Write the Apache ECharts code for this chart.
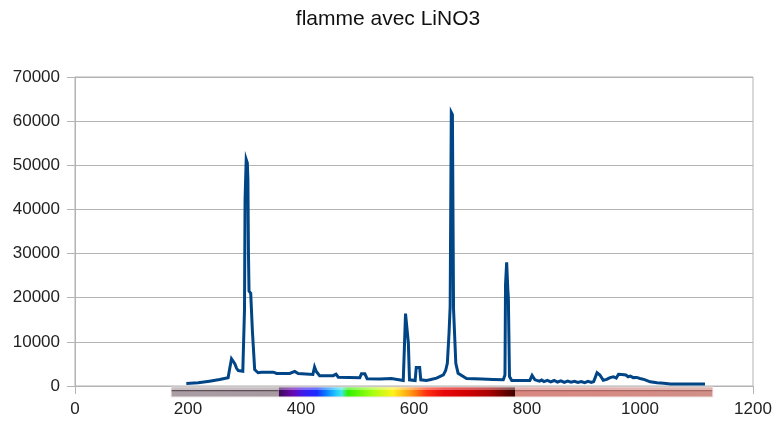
<!DOCTYPE html>
<html>
<head>
<meta charset="utf-8">
<script src="https://cdn.jsdelivr.net/npm/echarts@6/dist/echarts.min.js"></script>
<style>
  html, body { margin: 0; padding: 0; background: #ffffff; }
  #chart { width: 776px; height: 421px; }
</style>
</head>
<body>
<div id="chart"></div>
<script>
// Emission spectrum of a flame with lithium nitrate (wavelength in nm, intensity in counts)
const titleText = 'flamme avec LiNO3';

const wavelengths = [
  197, 218, 238, 256, 271, 274, 277, 280, 283, 286, 289, 297,
  299, 300, 301, 303, 305, 306, 307, 308, 311, 314, 318, 324,
  330, 351, 357, 380, 389, 395, 421, 424, 427, 433, 457, 462,
  466, 504, 507, 513, 517, 540, 560, 562, 581, 583, 585, 588,
  590, 592, 602, 604, 610, 612, 622, 628, 640, 652, 656, 659,
  662, 664, 666, 668, 670, 674, 678, 693, 720, 740, 758, 761,
  762, 764, 766, 767, 769, 773, 790, 805, 809, 814, 822, 826,
  830, 836, 842, 848, 854, 860, 866, 872, 878, 884, 890, 896,
  902, 908, 914, 918, 921, 924, 929, 935, 941, 947, 953, 958,
  962, 965, 968, 971, 975, 979, 983, 988, 994, 1000, 1008, 1018,
  1030, 1042, 1054, 1115
];

const counts = [
  570, 720, 1090, 1470, 1850, 4100, 6150, 5600, 5000, 4000, 3500, 3360,
  3600, 17300, 42200, 51300, 50500, 47000, 30000, 21500, 21000, 12400, 3700, 3000,
  3130, 3130, 2830, 2830, 3300, 2830, 2600, 4300, 3300, 2350, 2350, 2700,
  2000, 1850, 2750, 2750, 1650, 1600, 1700, 1250, 1250, 8700, 16400, 16400,
  9800, 1400, 1250, 4200, 4200, 1400, 1250, 1400, 1780, 2530, 3500, 5150,
  11950, 18000, 62000, 61500, 17400, 5150, 2900, 1700, 1600, 1500, 1400, 2500,
  23000, 28000, 22000, 20000, 2150, 1250, 1250, 1250, 2400, 1400, 1100, 1350,
  1000, 1300, 950, 1250, 900, 1150, 800, 1100, 850, 1050, 800, 1000,
  750, 1050, 800, 1000, 900, 3000, 2500, 1300, 1500, 1900, 2100, 1800,
  2650, 2200, 2600, 2300, 2500, 2100, 2250, 1900, 1950, 1700, 1450, 950,
  720, 600, 450, 450
];

const xTicks = [0, 200, 400, 600, 800, 1000, 1200];
const yTicks = [0, 10000, 20000, 30000, 40000, 50000, 60000, 70000];

// Visible-spectrum strip drawn under the wavelength axis
const bandRange = [171, 1128];
const bandColours = [
  [171, '#aa9ea4'], [360, '#a79aa1'], [362, '#3f0a5a'], [385, '#6a06b0'],
  [405, '#3a1cf0'], [428, '#1b2cff'], [445, '#0a80ff'], [462, '#22c8ff'],
  [472, '#40e8e0'], [483, '#30f000'], [527, '#a6ff10'], [563, '#fff21a'],
  [593, '#ff9a10'], [622, '#ff3010'], [652, '#e80808'], [693, '#d20000'],
  [734, '#a80000'], [773, '#4c0000'], [778, '#3c0000'], [779, '#d98781'],
  [950, '#d68a84'], [1128, '#d09088']
];

const seriesData = wavelengths.map((w, i) => [w, counts[i]]);

const span = bandRange[1] - bandRange[0];
const bandGradientStops = bandColours.map(([nm, c]) => ({
  offset: Math.min(1, Math.max(0, (nm - bandRange[0]) / span)),
  color: c
}));

const chart = echarts.init(document.getElementById('chart'), null, { renderer: 'canvas' });

const labelFont = {
  fontFamily: '"Liberation Sans", Arial, sans-serif',
  fontSize: 17,
  color: '#222222',
  formatter: function (v) { return String(v); }
};

chart.setOption({
  animation: false,
  backgroundColor: '#ffffff',
  title: {
    text: titleText,
    left: 'center',
    top: 4,
    textStyle: {
      fontFamily: '"Liberation Sans", Arial, sans-serif',
      fontSize: 21,
      fontWeight: 'normal',
      color: '#111111'
    }
  },
  grid: {
    left: 75,
    right: 23,
    top: 77,
    bottom: 35,
    show: true,
    borderColor: '#b3b3b3',
    borderWidth: 1,
    backgroundColor: 'transparent'
  },
  xAxis: {
    type: 'value',
    min: xTicks[0],
    max: xTicks[xTicks.length - 1],
    interval: xTicks[1] - xTicks[0],
    axisLine: { show: true, lineStyle: { color: '#b3b3b3', width: 1 } },
    axisTick: { show: true, inside: false, length: 8, lineStyle: { color: '#b3b3b3' } },
    splitLine: { show: false },
    axisLabel: Object.assign({ margin: 15 }, labelFont)
  },
  yAxis: {
    type: 'value',
    min: yTicks[0],
    max: yTicks[yTicks.length - 1],
    interval: yTicks[1] - yTicks[0],
    axisLine: { show: true, lineStyle: { color: '#b3b3b3', width: 1 } },
    axisTick: { show: true, inside: false, length: 8, lineStyle: { color: '#b3b3b3' } },
    splitLine: { show: true, lineStyle: { color: '#b3b3b3', width: 1 } },
    axisLabel: Object.assign({ margin: 15 }, labelFont)
  },
  series: [
    {
      name: 'spectre',
      type: 'custom',
      coordinateSystem: 'cartesian2d',
      clip: false,
      silent: true,
      z: 3,
      encode: { x: [0, 1], y: 2 },
      data: [[bandRange[0], bandRange[1], 0]],
      renderItem: function (params, api) {
        const p0 = api.coord([api.value(0), api.value(2)]);
        const p1 = api.coord([api.value(1), api.value(2)]);
        const x = p0[0];
        const w = p1[0] - p0[0];
        const y = p0[1] + 1.5;
        const h = 9;
        const grayEnd = api.coord([360, 0])[0];
        const salmonStart = api.coord([779, 0])[0];
        return {
          type: 'group',
          children: [
            {
              type: 'rect',
              shape: { x: x - 1, y: y - 1, width: w + 2, height: h + 2 },
              style: { fill: 'rgba(240,228,226,0.8)' }
            },
            {
              type: 'rect',
              shape: { x: x, y: y, width: w, height: h },
              style: {
                fill: new echarts.graphic.LinearGradient(0, 0, 1, 0, bandGradientStops)
              }
            },
            {
              type: 'rect',
              shape: { x: x, y: y, width: w, height: 2.5 },
              style: { fill: 'rgba(255,255,255,0.35)' }
            },
            {
              type: 'rect',
              shape: { x: x, y: y + 2.5, width: grayEnd - x, height: 1.3 },
              style: { fill: 'rgba(70,55,60,0.75)' }
            },
            {
              type: 'rect',
              shape: { x: salmonStart, y: y + 2.5, width: x + w - salmonStart, height: 1.2 },
              style: { fill: 'rgba(120,60,60,0.45)' }
            }
          ]
        };
      }
    },
    {
      name: 'flamme avec LiNO3',
      type: 'line',
      data: seriesData,
      showSymbol: false,
      symbol: 'none',
      z: 4,
      lineStyle: { color: '#004586', width: 3, join: 'miter' },
      emphasis: { disabled: true }
    }
  ]
});
</script>
</body>
</html>
